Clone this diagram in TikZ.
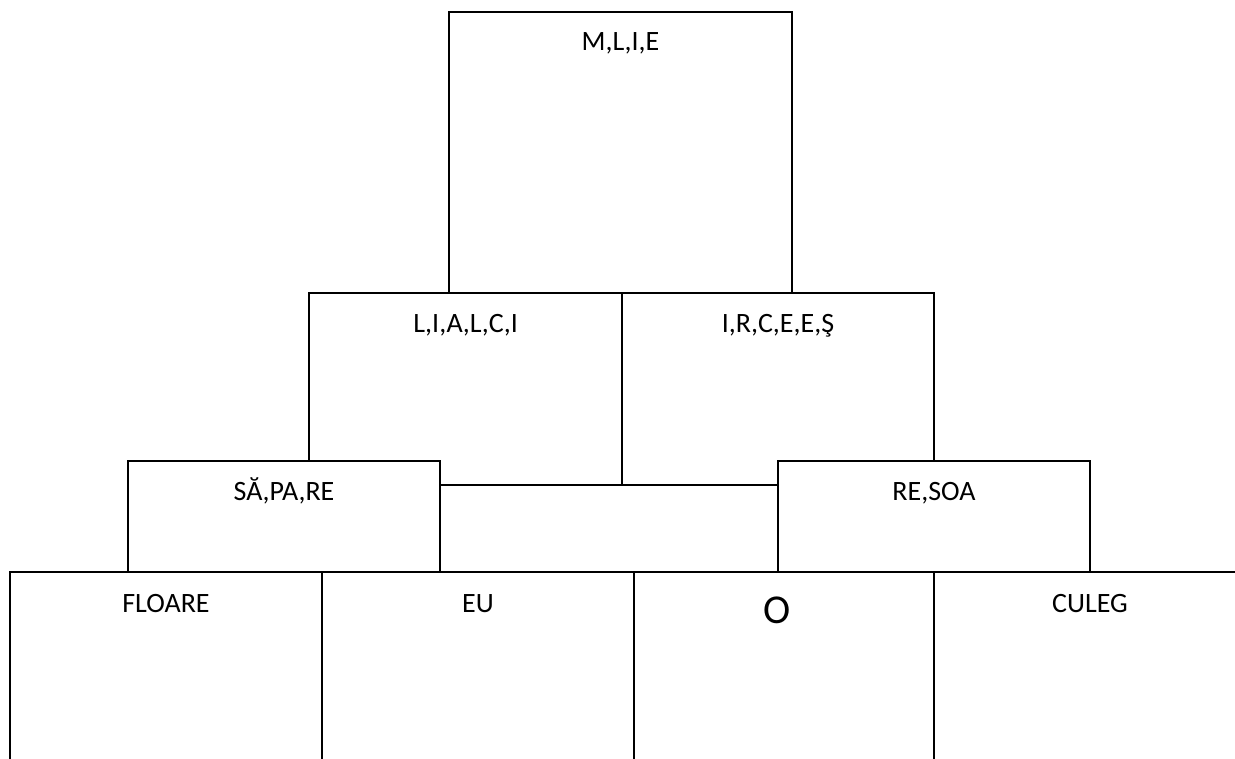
\documentclass[tikz,border=0pt]{standalone}
\usepackage{fontspec}
\setmainfont{Carlito}
\begin{document}
\begin{tikzpicture}[x=1pt,y=-1pt,
  box/.style={draw, line width=1.8pt, fill=white, inner sep=0pt},
  lbl/.style={anchor=base, inner sep=0pt, font=\fontsize{28}{32}\selectfont},
  biglbl/.style={anchor=base, inner sep=0pt, font=\fontsize{41}{48}\selectfont},
  rule/.style={line width=1.8pt}]
\useasboundingbox (0,0) rectangle (1235,759);
% upper boxes
\node[box, minimum width=343pt, minimum height=281pt] (top) at (620.5,152.5) {};
\node[box, minimum width=313pt, minimum height=192pt] (midL) at (465.5,389) {};
\node[box, minimum width=312pt, minimum height=192pt] (midR) at (778,389) {};
\node[box, minimum width=312pt, minimum height=111pt] (sapare) at (284,516.5) {};
\node[box, minimum width=312pt, minimum height=111pt] (resoa) at (934,516.5) {};
% bottom row
\coordinate (b0t) at (10,572);  \coordinate (b0b) at (10,759);
\coordinate (b1t) at (322,572); \coordinate (b1b) at (322,759);
\coordinate (b2t) at (634,572); \coordinate (b2b) at (634,759);
\coordinate (b3t) at (934,572); \coordinate (b3b) at (934,759);
\coordinate (b4t) at (1235,572);
\draw[rule] (b0b) -- (b0t) -- (b4t);
\draw[rule] (b1t) -- (b1b);
\draw[rule] (b2t) -- (b2b);
\draw[rule] (b3t) -- (b3b);
% labels
\node[lbl] (tMLIE) at (620.5,51) {M,L,I,E};
\node[lbl] (tLIALCI) at (465.5,333) {L,I,A,L,C,I};
\node[lbl] (tIRCEES) at (778,333) {I,R,C,E,E,Ş};
\node[lbl] (tSAPARE) at (284,500) {SĂ,PA,RE};
\node[lbl] (tRESOA) at (934,500) {RE,SOA};
\node[lbl] (tFLOARE) at (166,612) {FLOARE};
\node[lbl] (tEU) at (478,612) {EU};
\node[biglbl] (tO) at (777,623) {O};
\node[lbl] (tCULEG) at (1090,612) {CULEG};
\end{tikzpicture}
\end{document}
